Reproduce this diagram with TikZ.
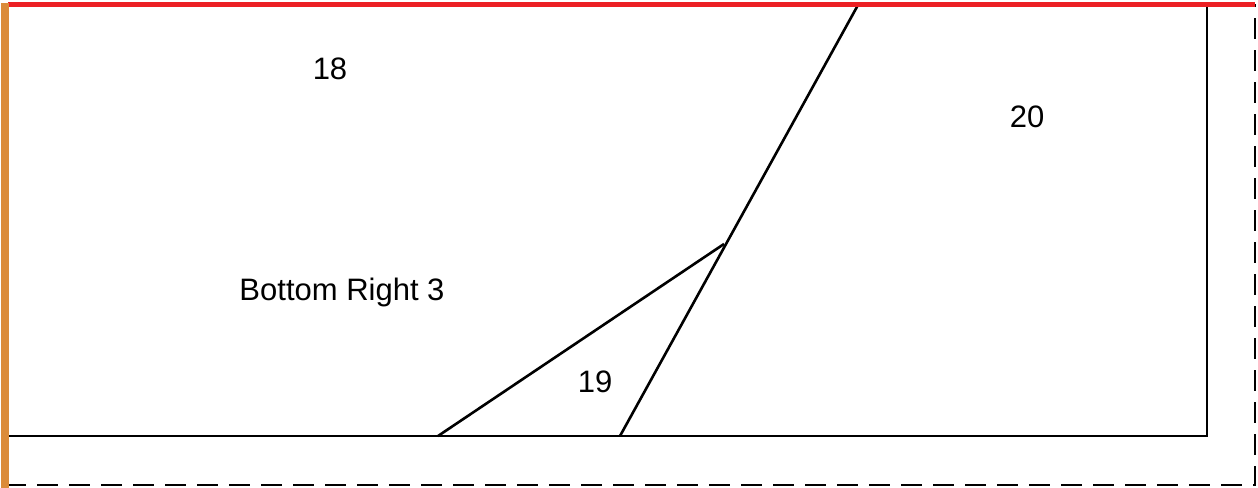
\documentclass[tikz,border=0pt]{standalone}
\usepackage{fontspec}
\setmainfont{Liberation Sans}
\begin{document}
\begin{tikzpicture}[x=1bp,y=-1bp,
  edge/.style={draw=black,line width=2.6bp},
  dashedge/.style={draw=black,line width=2.6bp,dash pattern=on 21bp off 11bp},
  lbl/.style={font=\fontsize{31bp}{36bp}\selectfont,inner sep=0pt}]
\useasboundingbox (0,0) rectangle (1258,488);
% dashed outer frame
\draw[dashedge] (5,5) rectangle (1255,485);
% coordinates
\coordinate (tl) at (7,5);
\coordinate (tr) at (1207,5);
\coordinate (br) at (1207,436);
\coordinate (bl) at (7,436);
\coordinate (a) at (858,5);
\coordinate (b) at (620,436);
\coordinate (c) at (438,436);
\coordinate (d) at (724,244);
% black frame and dividers
\draw[edge] (tl) -- (tr) -- (br) -- (bl) -- cycle;
\draw[edge] (a) -- (b);
\draw[edge] (c) -- (d);
% red top edge
\draw[draw={rgb,255:red,236;green,32;blue,36},line width=5.5bp] (8,4.5) -- (1255,4.5);
% orange left edge
\draw[draw={rgb,255:red,219;green,139;blue,58},line width=7bp] (5,3) -- (5,488);
% labels
\node[lbl] (l18) at (330,69) {18};
\node[lbl] (l20) at (1027,117) {20};
\node[lbl] (lbr) at (342,292) {Bottom Right 3};
\node[lbl] (l19) at (595,382) {19};
\end{tikzpicture}
\end{document}
